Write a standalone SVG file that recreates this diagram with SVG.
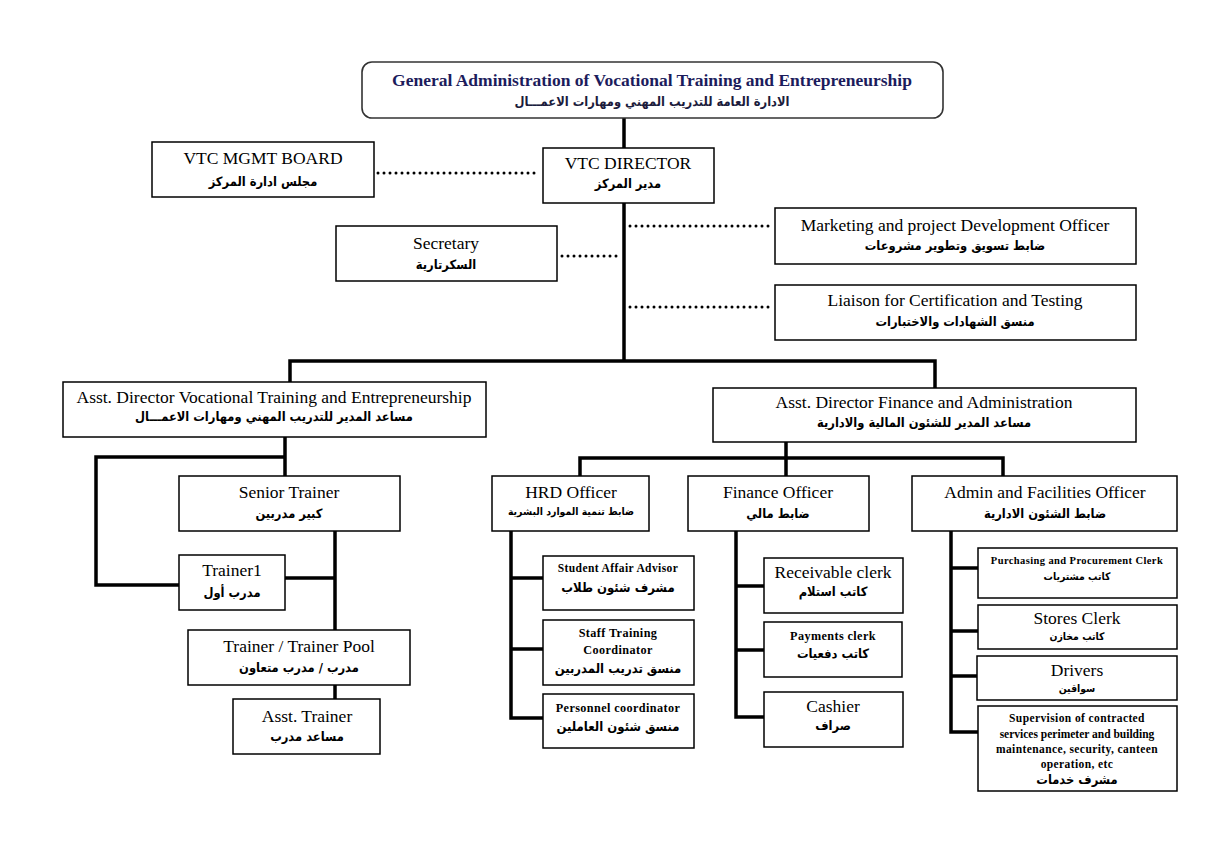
<svg xmlns="http://www.w3.org/2000/svg" width="1216" height="860" viewBox="0 0 1216 860">
<style>
.box{fill:#fff;stroke:#000;stroke-width:1.5}
.en{font-family:"Liberation Serif",serif;font-size:17.5px;text-anchor:middle;fill:#000}
.sm{font-family:"Liberation Serif",serif;font-size:12.2px;font-weight:bold;text-anchor:middle;fill:#000;letter-spacing:0.4px}
.ar{font-family:"DejaVu Sans Condensed","DejaVu Sans",sans-serif;font-stretch:condensed;font-weight:bold;font-size:12.8px;text-anchor:middle;fill:#000}
.arl{font-family:"DejaVu Sans Condensed","DejaVu Sans",sans-serif;font-stretch:condensed;font-weight:bold;font-size:13px;text-anchor:middle;fill:#000}
.ars{font-family:"DejaVu Sans Condensed","DejaVu Sans",sans-serif;font-stretch:condensed;font-weight:bold;font-size:10.4px;text-anchor:middle;fill:#000}
.ln{stroke:#000;stroke-width:3.5;fill:none;stroke-linecap:square}
.dot{stroke:#000;stroke-width:3;stroke-dasharray:0 6;stroke-linecap:round;fill:none}
</style>
<rect width="1216" height="860" fill="#fff"/>
<g id="connectors">
<path class="ln" d="M624 118V148M624 203V361M290 361H935M290 361V382M935 361V388"/>
<path class="dot" d="M378 173H538"/>
<path class="dot" d="M562 256H618"/>
<path class="dot" d="M630 226H770"/>
<path class="dot" d="M630 307H770"/>
<path class="ln" d="M285 437V476M285 457H96V585H179M335 531V630M285 578H335M335 685V699"/>
<path class="ln" d="M786 442V476M580 458H1003M580 458V476M1003 458V476"/>
<path class="ln" d="M511 531V718M511 578H543M511 649H543M511 718H543"/>
<path class="ln" d="M736 531V717M736 586H764M736 650H764M736 717H764"/>
<path class="ln" d="M951 531V732M951 568H978M951 631H978M951 676H978M951 732H978"/>
</g>
<g id="n-general">
<rect x="362" y="62" width="581" height="56" rx="10" fill="#fff" stroke="#333" stroke-width="1.6"/>
<text class="en" x="652" y="86" font-weight="bold" style="fill:#1c1c5c">General Administration of Vocational Training and Entrepreneurship</text>
<text class="ar" x="652" y="106" style="fill:#1c1c3c">الادارة العامة للتدريب المهني ومهارات الاعمـــال</text>
</g>
<g id="n-board">
<rect class="box" x="152" y="142" width="222" height="55"/>
<text class="en" x="263" y="164">VTC MGMT BOARD</text>
<text class="ar" x="263" y="186">مجلس ادارة المركز</text>
</g>
<g id="n-director">
<rect class="box" x="543" y="148" width="171" height="55"/>
<text class="en" x="628" y="169">VTC DIRECTOR</text>
<text class="ar" x="628" y="188">مدير المركز</text>
</g>
<g id="n-secretary">
<rect class="box" x="336" y="226" width="221" height="55"/>
<text class="en" x="446" y="249">Secretary</text>
<text class="ar" x="446" y="269">السكرتارية</text>
</g>
<g id="n-marketing">
<rect class="box" x="775" y="208" width="361" height="56"/>
<text class="en" x="955" y="231">Marketing and project Development Officer</text>
<text class="ar" x="955" y="250">ضابط تسويق وتطوير مشروعات</text>
</g>
<g id="n-liaison">
<rect class="box" x="775" y="285" width="361" height="55"/>
<text class="en" x="955" y="306">Liaison for Certification and Testing</text>
<text class="ar" x="955" y="326">منسق الشهادات والاختبارات</text>
</g>
<g id="n-adv">
<rect class="box" x="63" y="382" width="423" height="55"/>
<text class="en" x="274" y="403">Asst. Director Vocational Training and Entrepreneurship</text>
<text class="ar" x="274" y="421">مساعد المدير للتدريب المهني ومهارات الاعمـــال</text>
</g>
<g id="n-adf">
<rect class="box" x="713" y="388" width="423" height="54"/>
<text class="en" x="924" y="408">Asst. Director Finance and Administration</text>
<text class="ar" x="924" y="427">مساعد المدير للشئون المالية والادارية</text>
</g>
<g id="n-senior">
<rect class="box" x="179" y="476" width="221" height="55"/>
<text class="en" x="289" y="498">Senior Trainer</text>
<text class="ar" x="289" y="518">كبير مدربين</text>
</g>
<g id="n-trainer1">
<rect class="box" x="179" y="555" width="106" height="55"/>
<text class="en" x="232" y="576">Trainer1</text>
<text class="ar" x="232" y="597">مدرب أول</text>
</g>
<g id="n-pool">
<rect class="box" x="188" y="630" width="222" height="55"/>
<text class="en" x="299" y="652">Trainer / Trainer Pool</text>
<text class="ar" x="299" y="672">مدرب / مدرب متعاون</text>
</g>
<g id="n-assttrainer">
<rect class="box" x="233" y="699" width="147" height="55"/>
<text class="en" x="307" y="722">Asst. Trainer</text>
<text class="ar" x="307" y="741">مساعد مدرب</text>
</g>
<g id="n-hrd">
<rect class="box" x="492" y="476" width="157" height="55"/>
<text class="en" x="571" y="498">HRD Officer</text>
<text class="ars" x="571" y="515">ضابط تنمية الموارد البشرية</text>
</g>
<g id="n-finance">
<rect class="box" x="688" y="476" width="181" height="55"/>
<text class="en" x="778" y="498">Finance Officer</text>
<text class="ar" x="778" y="518">ضابط مالي</text>
</g>
<g id="n-admin">
<rect class="box" x="912" y="476" width="265" height="55"/>
<text class="en" x="1045" y="498">Admin and Facilities Officer</text>
<text class="ar" x="1045" y="518">ضابط الشئون الادارية</text>
</g>
<g id="n-student">
<rect class="box" x="543" y="556" width="151" height="54"/>
<text class="sm" x="618" y="572" style="font-size:11.5px">Student Affair Advisor</text>
<text class="arl" x="618" y="592">مشرف شئون طلاب</text>
</g>
<g id="n-stafftraining">
<rect class="box" x="543" y="620" width="151" height="65"/>
<text class="sm" x="618" y="637">Staff Training</text>
<text class="sm" x="618" y="654">Coordinator</text>
<text class="arl" x="618" y="673">منسق تدريب المدربين</text>
</g>
<g id="n-personnel">
<rect class="box" x="543" y="694" width="151" height="54"/>
<text class="sm" x="618" y="712">Personnel coordinator</text>
<text class="arl" x="618" y="731">منسق شئون العاملين</text>
</g>
<g id="n-receivable">
<rect class="box" x="764" y="558" width="139" height="55"/>
<text class="en" x="833" y="578">Receivable clerk</text>
<text class="ar" x="833" y="596">كاتب استلام</text>
</g>
<g id="n-payments">
<rect class="box" x="764" y="622" width="138" height="55"/>
<text class="sm" x="833" y="640">Payments clerk</text>
<text class="ar" x="833" y="658">كاتب دفعيات</text>
</g>
<g id="n-cashier">
<rect class="box" x="764" y="692" width="139" height="55"/>
<text class="en" x="833" y="712">Cashier</text>
<text class="ar" x="833" y="730">صراف</text>
</g>
<g id="n-purchasing">
<rect class="box" x="978" y="548" width="199" height="50"/>
<text class="sm" x="1077" y="564" style="font-size:10.5px">Purchasing and Procurement Clerk</text>
<text class="ars" x="1077" y="580">كاتب مشتريات</text>
</g>
<g id="n-stores">
<rect class="box" x="978" y="605" width="199" height="44"/>
<text class="en" x="1077" y="624">Stores Clerk</text>
<text class="ars" x="1077" y="640">كاتب مخازن</text>
</g>
<g id="n-drivers">
<rect class="box" x="977" y="656" width="200" height="44"/>
<text class="en" x="1077" y="676">Drivers</text>
<text class="ars" x="1077" y="692">سواقين</text>
</g>
<g id="n-supervision">
<rect class="box" x="978" y="706" width="199" height="85"/>
<text class="sm" x="1077" y="722" style="font-size:11.5px">Supervision of contracted</text>
<text class="sm" x="1077" y="738" style="font-size:11.5px;letter-spacing:0">services perimeter and building</text>
<text class="sm" x="1077" y="753" style="font-size:11.5px">maintenance, security, canteen</text>
<text class="sm" x="1077" y="768" style="font-size:11.5px">operation, etc</text>
<text class="ar" x="1077" y="784">مشرف خدمات</text>
</g>
</svg>
